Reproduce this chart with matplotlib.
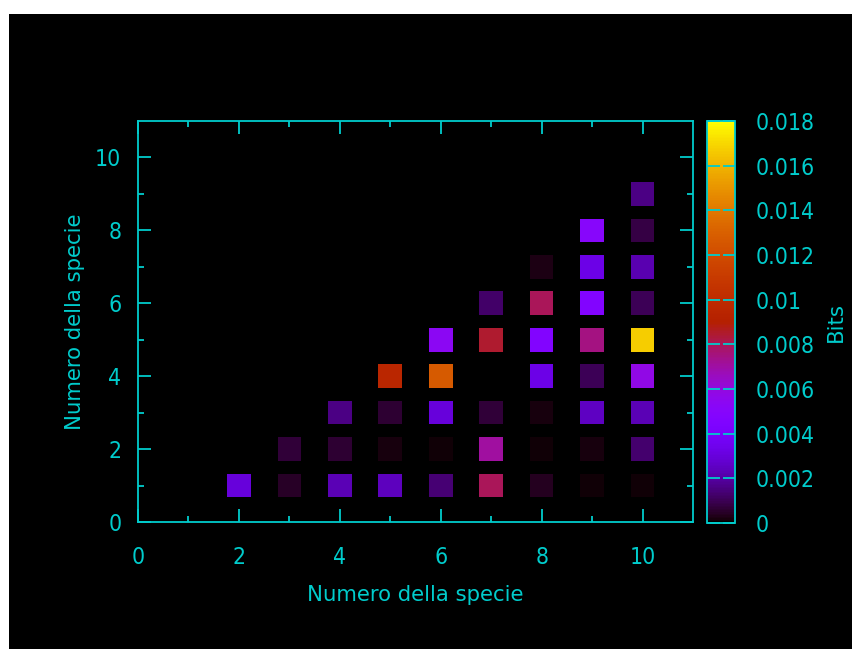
import numpy as np
import matplotlib
matplotlib.use('Agg')
from matplotlib import pyplot as plt
from matplotlib.patches import Rectangle

# species pairs (x = species number, y = species number) and the bits value
xs = [2, 3, 4, 5, 6, 7, 8, 9, 10,
      3, 4, 5, 6, 7, 8, 9, 10,
      4, 5, 6, 7, 8, 9, 10,
      5, 6, 7, 8, 9, 10,
      6, 7, 8, 9, 10,
      7, 8, 9, 10,
      8, 9, 10,
      9, 10,
      10]
ys = [1, 1, 1, 1, 1, 1, 1, 1, 1,
      2, 2, 2, 2, 2, 2, 2, 2,
      3, 3, 3, 3, 3, 3, 3,
      4, 4, 4, 4, 4, 4,
      5, 5, 5, 5, 5,
      6, 6, 6, 6,
      7, 7, 7,
      8, 8,
      9]
bits = [0.0030, 0.00045, 0.00225, 0.0024, 0.00135, 0.0080, 0.0004, 0.00008, 0.00012,
        0.0007, 0.0006, 0.0002, 0.00012, 0.0071, 0.00012, 0.0002, 0.0013,
        0.0016, 0.0006, 0.0030, 0.0007, 0.0002, 0.0025, 0.0023,
        0.0095, 0.0127, 0.00005, 0.0033, 0.0010, 0.0058,
        0.0054, 0.0085, 0.0047, 0.0075, 0.0167,
        0.0012, 0.0080, 0.0047, 0.0010,
        0.00025, 0.0033, 0.0022,
        0.0050, 0.0008,
        0.0016]

cbTicks = [0, 0.002, 0.004, 0.006, 0.008, 0.01, 0.012, 0.014, 0.016, 0.018]
cbLabels = ['0', '0.002', '0.004', '0.006', '0.008', '0.01', '0.012', '0.014', '0.016', '0.018']

fg = '#00cccc'
fs = 15.3      # axis titles
tfs = 16.5     # tick labels (narrow font)
W, H = 852, 649

fig = plt.figure(figsize=(W / 100, H / 100), dpi=100, facecolor='white')
# black canvas with the thin white strip on the top and left
fig.patches.append(Rectangle((9 / W, 0), 1, (H - 14) / H, transform=fig.transFigure,
                             facecolor='black', edgecolor='none', zorder=-1))

ax = fig.add_axes([138 / W, (H - 522) / H, 555 / W, 401 / H])
ax.set_facecolor('black')

sc = ax.scatter(xs, ys, c=bits, cmap='gnuplot', vmin=0, vmax=0.018,
                marker='s', s=290, edgecolors='none')

ax.set_xlim(0, 11)
ax.set_ylim(0, 11)
ax.set_xticks(range(0, 11, 2))
ax.set_xticks(range(1, 11, 2), minor=True)
ax.set_yticks(range(0, 11, 2))
ax.set_yticks(range(1, 11, 2), minor=True)

for sp in ax.spines.values():
    sp.set_color(fg)
    sp.set_linewidth(1.3)

ax.tick_params(which='both', direction='in', top=True, right=True, color=fg, width=1.3,
               labelcolor=fg, labelsize=tfs)
ax.tick_params(which='major', length=9.5)
ax.tick_params(which='minor', length=4.5)
ax.tick_params(axis='x', which='major', pad=17)
ax.tick_params(axis='y', which='major', pad=12)

ax.set_xlabel('Numero della specie', color=fg, fontsize=fs, labelpad=12)
ax.set_ylabel('Numero della specie', color=fg, fontsize=fs, labelpad=7)

cax = fig.add_axes([707 / W, (H - 523) / H, 28 / W, 402 / H])
cb = fig.colorbar(sc, cax=cax)
cb.set_ticks(cbTicks)
cb.set_ticklabels(cbLabels)
cb.outline.set_edgecolor(fg)
cb.outline.set_linewidth(1.3)
cax.tick_params(direction='in', left=True, right=True, color=fg, width=1.3, length=9,
                labelcolor=fg, labelsize=tfs, pad=15)
cax.minorticks_off()
cb.set_label('Bits', color=fg, fontsize=fs, labelpad=8)

for lab in ax.get_xticklabels() + ax.get_yticklabels() + cax.get_yticklabels():
    lab.set_fontstretch('condensed')

fig.savefig('out.png', dpi=100, facecolor='white')
